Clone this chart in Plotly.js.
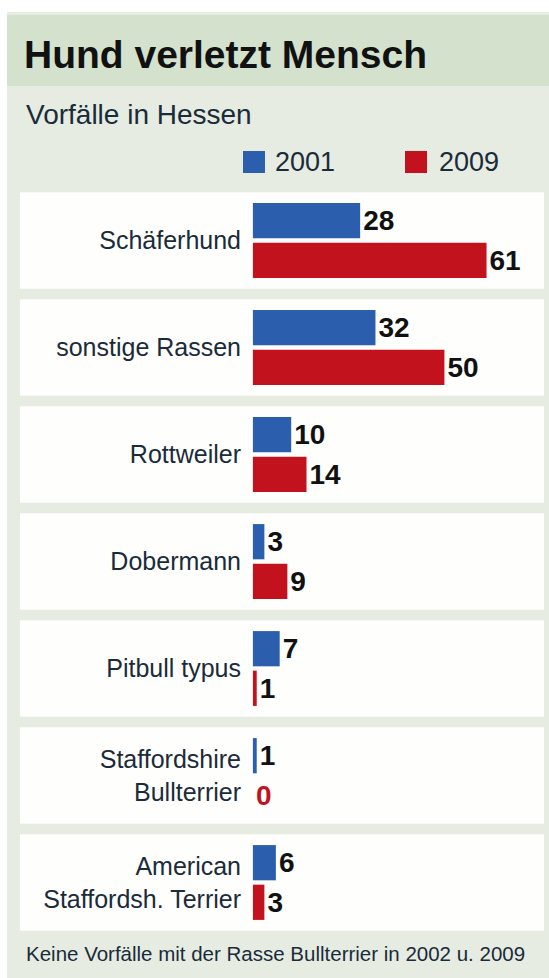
<!DOCTYPE html>
<html>
<head>
<meta charset="utf-8">
<script src="https://cdn.plot.ly/plotly-3.0.1.min.js"></script>
<style>
  html, body { margin: 0; padding: 0; background: #fff; }
  #chart { width: 549px; height: 978px; }
</style>
</head>
<body>
<div id="chart"></div>
<script>
// Vorfälle in Hessen, 2001 vs 2009
const breeds = ['Schäferhund', 'sonstige Rassen', 'Rottweiler', 'Dobermann', 'Pitbull typus',
                'Staffordshire<br>Bullterrier', 'American<br>Staffordsh. Terrier'];
const years = ['2001', '2009'];
const cases2001 = [28, 32, 10, 3, 7, 1, 6];
const cases2009 = [61, 50, 14, 9, 1, 0, 3];

const blue = '#2b5eac';
const red = '#c1121e';
const ink = '#1a2b3a';
const green = '#e6ece2';
const band = '#d3e1cd';

// page geometry (pixels -> paper)
const W = 549, H = 978, L = 20, R = 5, T = 187, B = 42;
const px = x => (x - L) / (W - L - R);
const py = y => (H - B - y) / (H - T - B);

function barTrace(name, vals, color) {
    return {
        type: 'bar',
        orientation: 'h',
        name: name,
        y: breeds,
        x: vals,
        marker: {color: color},
        text: vals.map(String),
        textposition: 'outside',
        constraintext: 'none',
        cliponaxis: false,
        textfont: {
            family: 'Liberation Sans', size: 28, weight: 'bold',
            color: vals.map(v => v === 0 ? color : '#111')
        },
        hoverinfo: 'none'
    };
}

const data = [
    barTrace(years[0], cases2001, blue),
    barTrace(years[1], cases2009, red)
];

// white row panels behind each category
const panels = breeds.map((b, i) => ({
    type: 'rect', layer: 'below',
    xref: 'paper', yref: 'y',
    x0: 0, x1: 1, y0: i - 0.45, y1: i + 0.45,
    fillcolor: '#fefefc', line: {width: 0}
}));

const shapes = [
    // outer frame
    {type: 'rect', layer: 'below', xref: 'paper', yref: 'paper',
     x0: px(7), x1: px(549), y0: py(978), y1: py(12),
     fillcolor: green, line: {width: 0}},
    // title band
    {type: 'rect', layer: 'below', xref: 'paper', yref: 'paper',
     x0: px(7), x1: px(549), y0: py(86), y1: py(15),
     fillcolor: band, line: {width: 0}},
    // legend squares
    {type: 'rect', xref: 'paper', yref: 'paper',
     x0: px(243), x1: px(265), y0: py(173), y1: py(151),
     fillcolor: blue, line: {width: 0}},
    {type: 'rect', xref: 'paper', yref: 'paper',
     x0: px(405), x1: px(427), y0: py(173), y1: py(151),
     fillcolor: red, line: {width: 0}}
].concat(panels);

const annotations = [
    {text: 'Vorfälle in Hessen', xref: 'paper', yref: 'paper',
     x: px(24), y: py(115), xanchor: 'left', yanchor: 'middle', showarrow: false,
     font: {family: 'Liberation Sans', size: 28, color: ink}},
    {text: years[0], xref: 'paper', yref: 'paper',
     x: px(273), y: py(162), xanchor: 'left', yanchor: 'middle', showarrow: false,
     font: {family: 'Liberation Sans', size: 27, color: ink}},
    {text: years[1], xref: 'paper', yref: 'paper',
     x: px(437), y: py(162), xanchor: 'left', yanchor: 'middle', showarrow: false,
     font: {family: 'Liberation Sans', size: 27, color: ink}},
    {text: 'Keine Vorfälle mit der Rasse Bullterrier in 2002 u. 2009', xref: 'paper', yref: 'paper',
     x: px(24), y: py(953), xanchor: 'left', yanchor: 'middle', showarrow: false,
     font: {family: 'Liberation Sans', size: 20.5, color: ink}}
];

const layout = {
    width: W, height: H,
    margin: {l: L, r: R, t: T, b: B, pad: 0},
    paper_bgcolor: '#fff',
    plot_bgcolor: 'rgba(0,0,0,0)',
    title: {
        text: '<b>Hund verletzt Mensch</b>',
        xref: 'container', yref: 'container',
        x: 24 / W, y: 1 - 54 / H, xanchor: 'left', yanchor: 'middle',
        font: {family: 'Liberation Sans', size: 39, color: '#111'}
    },
    showlegend: false,
    barmode: 'group',
    bargap: 0.26,
    bargroupgap: 0.11,
    xaxis: {visible: false, range: [-60.8, 76], fixedrange: true},
    yaxis: {
        type: 'category',
        range: [6.5, -0.5],
        anchor: 'free', position: px(253),
        showgrid: false, zeroline: false, showline: false, ticks: '',
        ticklabelstandoff: 12,
        tickfont: {family: 'Liberation Sans', size: 25, color: ink},
        fixedrange: true
    },
    shapes: shapes,
    annotations: annotations,
    hovermode: false
};

Plotly.newPlot('chart', data, layout, {displayModeBar: false, staticPlot: true});
</script>
</body>
</html>
